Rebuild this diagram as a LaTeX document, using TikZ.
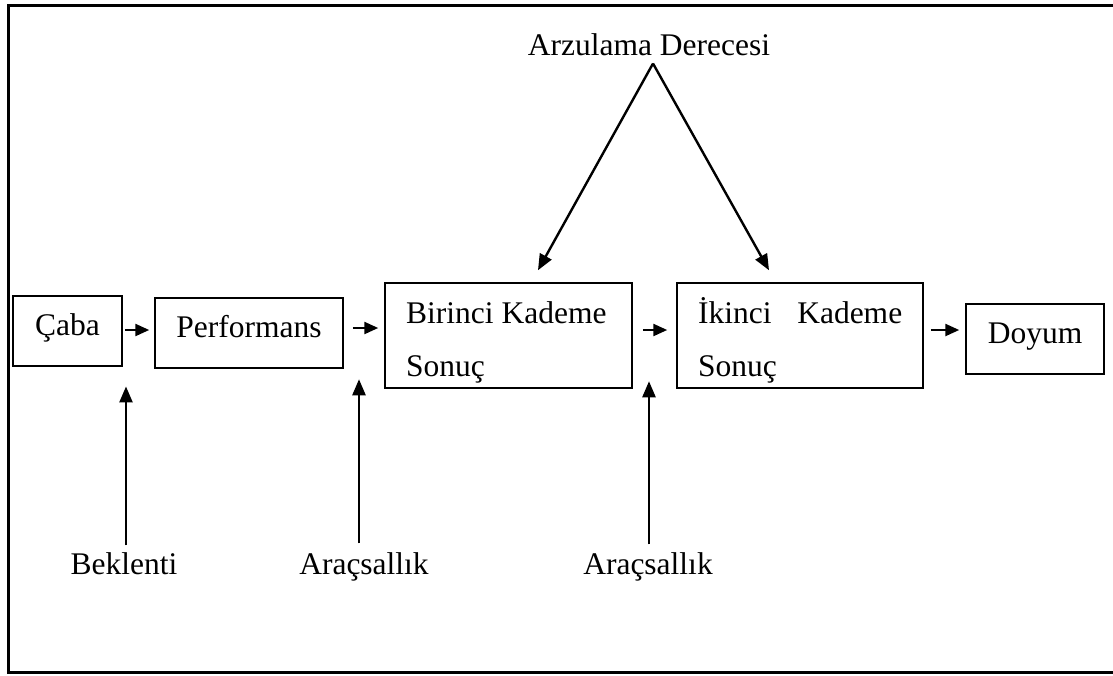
\documentclass[tikz,border=0pt]{standalone}
\usepackage{fontspec}
\setmainfont{Liberation Serif}
\usetikzlibrary{arrows.meta}
\begin{document}
\begin{tikzpicture}[x=1pt,y=-1pt,
  every node/.style={font=\fontsize{31.5}{38}\selectfont, inner sep=0pt},
  box/.style={draw, line width=1.5pt, rectangle},
  sbox/.style={box, text height=18pt, text depth=10pt},
  lbl/.style={anchor=base},
  arr/.style={line width=2.4pt, -{Triangle[length=16pt,width=13pt]}},
  sarr/.style={line width=2.4pt, -{Triangle[length=14pt,width=12pt]}}]
\useasboundingbox (0,0) rectangle (1113,675);
\draw[line width=3pt] (1116,5) -- (8,5) -- (8,672) -- (1116,672);

\node[sbox, minimum width=109pt, minimum height=70pt] (caba) at (67.5,331) {Çaba};
\node[sbox, minimum width=188pt, minimum height=70pt] (perf) at (249,333) {Performans};
\node[box, minimum width=247pt, minimum height=105pt] (b1) at (508.5,335.5) {};
\node[box, minimum width=246pt, minimum height=105pt] (b2) at (800,335.5) {};
\node[sbox, minimum width=138pt, minimum height=70pt] (doy) at (1035,339) {Doyum};

\node[anchor=base west] (b1a) at (406,323) {Birinci Kademe};
\node[anchor=base west] (b1b) at (406,376) {Sonuç};
\node[anchor=base west] (b2a) at (698,323) {\makebox[204pt][l]{İkinci\hfill Kademe}};
\node[anchor=base west] (b2b) at (698,376) {Sonuç};

\node[lbl] (arz) at (649,55) {Arzulama Derecesi};
\node[lbl] (bek) at (124,574) {Beklenti};
\node[lbl] (ar1) at (364,574) {Araçsallık};
\node[lbl] (ar2) at (648,574) {Araçsallık};

\draw[arr] ([xshift=4pt,yshift=-8pt]arz.south) -- ([xshift=29.5pt,yshift=12pt]b1.north);
\draw[arr] ([xshift=4pt,yshift=-8pt]arz.south) -- ([xshift=-31pt,yshift=12pt]b2.north);

\draw[sarr] ([xshift=2pt,yshift=1pt]caba.east) -- ([xshift=-5pt,yshift=1pt]caba.east -| perf.west);
\draw[sarr] ([xshift=9pt,yshift=5pt]perf.east) -- ([xshift=-6pt,yshift=5pt]perf.east -| b1.west);
\draw[sarr] ([xshift=10pt,yshift=5.5pt]b1.east) -- ([xshift=-9pt,yshift=5.5pt]b1.east -| b2.west);
\draw[sarr] ([xshift=7pt,yshift=5.5pt]b2.east) -- ([xshift=-6pt,yshift=5.5pt]b2.east -| doy.west);

\draw[arr] ([xshift=2pt,yshift=6.5pt]bek.north) -- ++(0,-159);
\draw[arr] ([xshift=-5pt,yshift=8.7pt]ar1.north) -- ++(0,-164);
\draw[arr] ([xshift=1pt,yshift=7.7pt]ar2.north) -- ++(0,-163);
\end{tikzpicture}
\end{document}
